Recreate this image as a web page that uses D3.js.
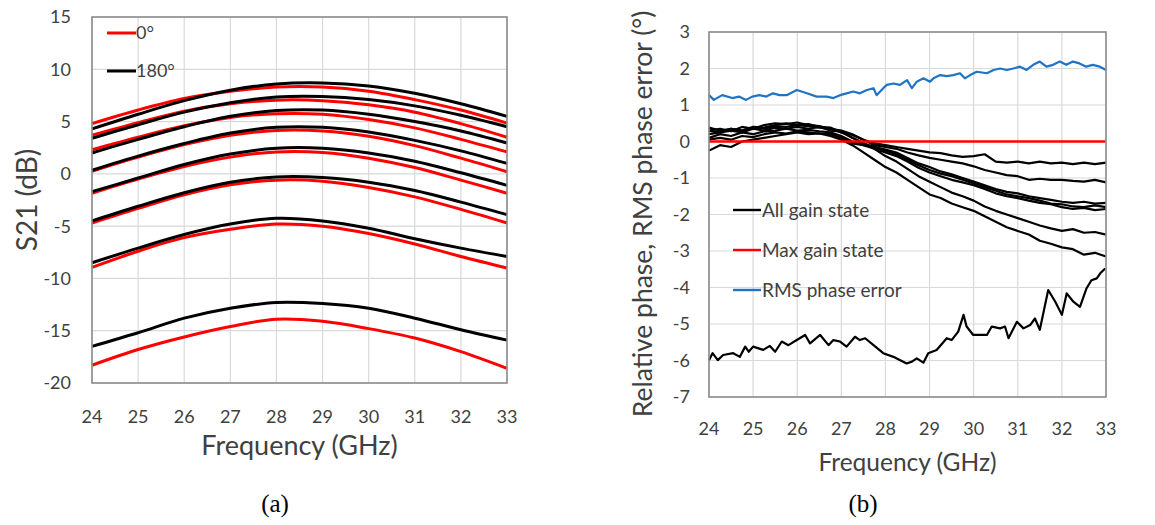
<!DOCTYPE html>
<html>
<head>
<meta charset="utf-8">
<script src="https://cdn.jsdelivr.net/npm/d3@7"></script>
<style>
  html, body { margin: 0; padding: 0; background: #fff; }
  svg { display: block; }
  text { font-family: Lato, "Open Sans", sans-serif; fill: #404040; }
</style>
</head>
<body>
<svg id="chart" width="1155" height="525"></svg>
<script>
// ---------- Panel (a) : S21 vs frequency ----------
const freqS21 = [24, 25, 26, 27, 28, 29, 30, 31, 32, 33];
const s21Ticks = [15, 10, 5, 0, -5, -10, -15, -20];
const freqTicks = [24, 25, 26, 27, 28, 29, 30, 31, 32, 33];

const s21_0deg_1 = [4.8, 6.1, 7.2, 7.9, 8.3, 8.3, 7.9, 7.1, 6.1, 4.85];
const s21_0deg_2 = [3.7, 4.9, 6.0, 6.7, 7.05, 7.0, 6.6, 5.9, 4.8, 3.5];
const s21_0deg_3 = [2.3, 3.5, 4.6, 5.4, 5.75, 5.7, 5.2, 4.4, 3.3, 2.1];
const s21_0deg_4 = [0.25, 1.6, 2.8, 3.7, 4.15, 4.1, 3.6, 2.7, 1.5, 0.2];
const s21_0deg_5 = [-1.85, -0.5, 0.7, 1.6, 2.1, 2.05, 1.5, 0.6, -0.6, -1.85];
const s21_0deg_6 = [-4.7, -3.3, -2.0, -1.05, -0.6, -0.7, -1.3, -2.2, -3.4, -4.7];
const s21_0deg_7 = [-8.95, -7.4, -6.1, -5.3, -4.8, -5.0, -5.7, -6.7, -7.9, -9.0];
const s21_0deg_8 = [-18.3, -16.8, -15.6, -14.6, -13.9, -14.1, -14.8, -15.7, -17.0, -18.6];

const s21_180deg_1 = [4.3, 5.7, 7.0, 8.0, 8.6, 8.7, 8.4, 7.7, 6.7, 5.5];
const s21_180deg_2 = [3.4, 4.7, 5.9, 6.8, 7.35, 7.4, 7.1, 6.5, 5.6, 4.5];
const s21_180deg_3 = [2.0, 3.3, 4.5, 5.5, 6.05, 6.1, 5.7, 5.0, 4.1, 2.95];
const s21_180deg_4 = [0.35, 1.7, 2.9, 3.9, 4.45, 4.45, 4.0, 3.2, 2.2, 1.0];
const s21_180deg_5 = [-1.7, -0.4, 0.9, 1.9, 2.45, 2.45, 2.0, 1.2, 0.1, -1.1];
const s21_180deg_6 = [-4.5, -3.1, -1.8, -0.8, -0.3, -0.35, -0.8, -1.6, -2.7, -3.9];
const s21_180deg_7 = [-8.5, -7.1, -5.8, -4.8, -4.25, -4.5, -5.2, -6.2, -7.1, -7.9];
const s21_180deg_8 = [-16.5, -15.2, -13.8, -12.85, -12.3, -12.4, -12.85, -13.8, -14.9, -15.9];

const legendA = ["0°", "180°"];

// ---------- Panel (b) : relative phase ----------
const phaseTicks = [3, 2, 1, 0, -1, -2, -3, -4, -5, -6, -7];
const freqPhase = [24, 24.25, 24.5, 24.75, 25, 25.25, 25.5, 25.75, 26, 26.25, 26.5, 26.75, 27, 27.25, 27.5, 27.75, 28, 28.25, 28.5, 28.75, 29, 29.25, 29.5, 29.75, 30, 30.25, 30.5, 30.75, 31, 31.25, 31.5, 31.75, 32, 32.25, 32.5, 32.75, 33];

const phaseGain1 = [0.38, 0.3, 0.35, 0.3, 0.38, 0.35, 0.42, 0.4, 0.45, 0.42, 0.38, 0.35, 0.25, 0.18, 0.05, -0.05, -0.1, -0.15, -0.2, -0.25, -0.3, -0.32, -0.38, -0.42, -0.4, -0.35, -0.55, -0.58, -0.55, -0.6, -0.55, -0.6, -0.58, -0.62, -0.58, -0.62, -0.58];
const phaseGain2 = [0.3, 0.35, 0.28, 0.4, 0.35, 0.45, 0.5, 0.48, 0.52, 0.45, 0.42, 0.35, 0.3, 0.2, 0.05, -0.1, -0.15, -0.2, -0.3, -0.38, -0.45, -0.5, -0.55, -0.6, -0.68, -0.78, -0.85, -0.92, -0.95, -1.05, -1.02, -1.05, -1.05, -1.08, -1.1, -1.05, -1.12];
const phaseGain3 = [0.2, 0.25, 0.3, 0.25, 0.35, 0.3, 0.38, 0.35, 0.4, 0.35, 0.4, 0.3, 0.28, 0.1, -0.05, -0.15, -0.22, -0.3, -0.45, -0.6, -0.7, -0.82, -0.9, -1.0, -1.1, -1.2, -1.3, -1.38, -1.42, -1.5, -1.55, -1.6, -1.65, -1.68, -1.65, -1.7, -1.68];
const phaseGain4 = [0.1, 0.2, 0.15, 0.25, 0.2, 0.28, 0.3, 0.35, 0.3, 0.32, 0.28, 0.25, 0.15, 0.0, -0.1, -0.15, -0.25, -0.35, -0.5, -0.65, -0.78, -0.88, -0.95, -1.05, -1.15, -1.25, -1.35, -1.45, -1.5, -1.55, -1.62, -1.7, -1.72, -1.78, -1.8, -1.75, -1.8];
const phaseGain5 = [0.05, 0.1, 0.05, 0.15, 0.12, 0.2, 0.25, 0.22, 0.28, 0.25, 0.22, 0.2, 0.1, -0.05, -0.1, -0.2, -0.3, -0.4, -0.55, -0.72, -0.85, -0.95, -1.05, -1.12, -1.2, -1.3, -1.42, -1.5, -1.55, -1.62, -1.68, -1.72, -1.8, -1.85, -1.82, -1.88, -1.85];
const phaseGain6 = [0.3, 0.25, 0.35, 0.3, 0.4, 0.38, 0.45, 0.5, 0.45, 0.48, 0.4, 0.38, 0.25, 0.1, -0.05, -0.2, -0.4, -0.55, -0.75, -0.95, -1.1, -1.25, -1.4, -1.5, -1.62, -1.78, -1.9, -2.0, -2.1, -2.2, -2.3, -2.38, -2.45, -2.4, -2.5, -2.48, -2.55];
const phaseGain7 = [-0.25, -0.1, -0.15, 0.0, 0.05, 0.1, 0.15, 0.2, 0.25, 0.2, 0.22, 0.15, 0.05, -0.1, -0.3, -0.5, -0.7, -0.85, -1.05, -1.25, -1.45, -1.55, -1.7, -1.8, -1.9, -2.05, -2.2, -2.35, -2.45, -2.55, -2.72, -2.8, -2.9, -2.95, -3.1, -3.05, -3.15];

const freqLowGain = [24.0, 24.08, 24.2, 24.32, 24.55, 24.7, 24.82, 24.9, 25.0, 25.23, 25.38, 25.5, 25.65, 25.8, 25.99, 26.18, 26.29, 26.52, 26.71, 26.82, 26.97, 27.12, 27.31, 27.42, 27.54, 27.73, 27.95, 28.18, 28.48, 28.6, 28.71, 28.86, 28.97, 29.16, 29.39, 29.5, 29.65, 29.77, 29.84, 29.99, 30.3, 30.41, 30.6, 30.71, 30.79, 30.98, 31.13, 31.28, 31.39, 31.5, 31.69, 31.85, 32.0, 32.11, 32.26, 32.41, 32.56, 32.67, 32.79, 32.87, 32.98];
const phaseLowGain = [-5.99, -5.8, -5.99, -5.85, -5.8, -5.9, -5.62, -5.76, -5.62, -5.71, -5.6, -5.76, -5.48, -5.58, -5.44, -5.3, -5.53, -5.3, -5.58, -5.44, -5.48, -5.62, -5.35, -5.44, -5.39, -5.58, -5.8, -5.9, -6.08, -6.03, -5.94, -6.06, -5.8, -5.71, -5.39, -5.44, -5.21, -4.75, -5.07, -5.3, -5.3, -5.07, -5.12, -5.07, -5.39, -4.94, -5.12, -5.03, -4.85, -5.16, -4.07, -4.39, -4.75, -4.16, -4.39, -4.53, -4.02, -3.8, -3.75, -3.61, -3.48];

const freqMaxGain = [24, 33];
const phaseMaxGain = [0, 0];

const freqRms = [24.0, 24.11, 24.3, 24.53, 24.68, 24.84, 24.98, 25.14, 25.3, 25.45, 25.6, 25.76, 25.99, 26.22, 26.44, 26.67, 26.82, 26.97, 27.12, 27.27, 27.42, 27.58, 27.73, 27.8, 27.95, 28.03, 28.18, 28.33, 28.49, 28.6, 28.71, 28.86, 29.01, 29.09, 29.24, 29.39, 29.54, 29.69, 29.8, 29.92, 30.07, 30.3, 30.45, 30.6, 30.75, 30.9, 31.05, 31.2, 31.35, 31.5, 31.65, 31.8, 31.95, 32.1, 32.25, 32.4, 32.55, 32.7, 32.86, 33.0];
const rmsError = [1.27, 1.14, 1.27, 1.19, 1.23, 1.14, 1.23, 1.27, 1.23, 1.32, 1.27, 1.27, 1.41, 1.32, 1.23, 1.23, 1.19, 1.27, 1.32, 1.37, 1.32, 1.41, 1.46, 1.27, 1.46, 1.55, 1.59, 1.55, 1.68, 1.46, 1.64, 1.73, 1.64, 1.73, 1.82, 1.79, 1.82, 1.87, 1.73, 1.82, 1.91, 1.87, 1.96, 2.0, 1.96, 2.0, 2.05, 1.96, 2.1, 2.19, 2.05, 2.1, 2.19, 2.1, 2.19, 2.14, 2.05, 2.1, 2.05, 1.96];

const legendB = ["All gain state", "Max gain state", "RMS phase error"];

// ---------- drawing ----------
const svg = d3.select("#chart");
const gridColor = "#d9d9d9";
const frameColor = "#8c8c8c";
const textColor = "#404040";

function drawFrame(g, x, y, xt, yt, tickFont, xLabelDy, yLabelDx) {
  const [x0, x1] = x.range();
  const [y1, y0] = y.range();
  g.append("g").selectAll("line").data(xt).join("line")
    .attr("x1", d => x(d)).attr("x2", d => x(d))
    .attr("y1", y0).attr("y2", y1)
    .attr("stroke", gridColor).attr("stroke-width", 1.2);
  g.append("g").selectAll("line").data(yt).join("line")
    .attr("x1", x0).attr("x2", x1)
    .attr("y1", d => y(d)).attr("y2", d => y(d))
    .attr("stroke", gridColor).attr("stroke-width", 1.2);
  g.append("g").selectAll("text").data(xt).join("text")
    .attr("x", d => x(d)).attr("y", y1 + xLabelDy)
    .attr("text-anchor", "middle")
    .style("font-size", tickFont + "px").style("fill", textColor)
    .text(d => d);
  g.append("g").selectAll("text").data(yt).join("text")
    .attr("x", x0 - yLabelDx).attr("y", d => y(d))
    .attr("dy", "0.36em")
    .attr("text-anchor", "end")
    .style("font-size", tickFont + "px").style("fill", textColor)
    .text(d => d);
}

function drawBorder(g, x, y) {
  const [x0, x1] = x.range();
  const [y1, y0] = y.range();
  g.append("rect")
    .attr("x", x0).attr("y", y0)
    .attr("width", x1 - x0).attr("height", y1 - y0)
    .attr("fill", "none").attr("stroke", frameColor).attr("stroke-width", 1.6);
}

// Panel (a)
const xA = d3.scaleLinear().domain([24, 33]).range([92, 507]);
const yA = d3.scaleLinear().domain([-20, 15]).range([383, 17]);
const gA = svg.append("g");
drawFrame(gA, xA, yA, freqTicks, s21Ticks, 18, 40, 21);

const lineA = d3.line()
  .x((d, i) => xA(freqS21[i]))
  .y(d => yA(d))
  .curve(d3.curveCatmullRom.alpha(0.5));

const redCurves = [s21_0deg_1, s21_0deg_2, s21_0deg_3, s21_0deg_4, s21_0deg_5, s21_0deg_6, s21_0deg_7, s21_0deg_8];
const blackCurves = [s21_180deg_1, s21_180deg_2, s21_180deg_3, s21_180deg_4, s21_180deg_5, s21_180deg_6, s21_180deg_7, s21_180deg_8];

gA.append("g").selectAll("path").data(redCurves).join("path")
  .attr("d", lineA).attr("fill", "none")
  .attr("stroke", "#ff0000").attr("stroke-width", 3);
gA.append("g").selectAll("path").data(blackCurves).join("path")
  .attr("d", lineA).attr("fill", "none")
  .attr("stroke", "#000000").attr("stroke-width", 3);
drawBorder(gA, xA, yA);

const legA = gA.append("g");
const legAColors = ["#ff0000", "#000000"];
const legAY = [33, 71];
legendA.forEach((t, i) => {
  legA.append("line").attr("x1", 107).attr("x2", 136)
    .attr("y1", legAY[i]).attr("y2", legAY[i])
    .attr("stroke", legAColors[i]).attr("stroke-width", 3);
  legA.append("text").attr("x", 136).attr("y", legAY[i]).attr("dy", "0.36em")
    .style("font-size", "18px").style("fill", textColor).text(t);
});

svg.append("text").attr("x", 299.5).attr("y", 455)
  .attr("text-anchor", "middle").style("font-size", "27px").style("fill", textColor)
  .text("Frequency (GHz)");
svg.append("text").attr("transform", "translate(37,200) rotate(-90)")
  .attr("text-anchor", "middle").style("font-size", "28px").style("fill", textColor)
  .text("S21 (dB)");
svg.append("text").attr("x", 275).attr("y", 512)
  .attr("text-anchor", "middle")
  .style("font-family", "'Liberation Serif', 'DejaVu Serif', serif")
  .style("font-size", "25px").style("fill", "#000")
  .text("(a)");

// Panel (b)
const xB = d3.scaleLinear().domain([24, 33]).range([709, 1106]);
const yB = d3.scaleLinear().domain([-7, 3]).range([397, 32]);
const gB = svg.append("g");
drawFrame(gB, xB, yB, freqTicks, phaseTicks, 18, 38, 19);

const lineB = d3.line().x(d => xB(d[0])).y(d => yB(d[1]));
const zipPts = (fs, vs) => vs.map((v, i) => [fs[i], v]);

const gainCurves = [phaseGain1, phaseGain2, phaseGain3, phaseGain4, phaseGain5, phaseGain6, phaseGain7]
  .map(vs => zipPts(freqPhase, vs));
gainCurves.push(zipPts(freqLowGain, phaseLowGain));

gB.append("g").selectAll("path").data(gainCurves).join("path")
  .attr("d", lineB).attr("fill", "none")
  .attr("stroke", "#000").attr("stroke-width", 2.2)
  .attr("stroke-linejoin", "round");
gB.append("path").datum(zipPts(freqMaxGain, phaseMaxGain))
  .attr("d", lineB).attr("fill", "none")
  .attr("stroke", "#ff0000").attr("stroke-width", 2.6);
gB.append("path").datum(zipPts(freqRms, rmsError))
  .attr("d", lineB).attr("fill", "none")
  .attr("stroke", "#1f74c6").attr("stroke-width", 2.2)
  .attr("stroke-linejoin", "round");
drawBorder(gB, xB, yB);

const legB = gB.append("g");
const legBColors = ["#000000", "#ff0000", "#1f74c6"];
const legBY = [210, 250, 290];
legendB.forEach((t, i) => {
  legB.append("line").attr("x1", 733).attr("x2", 761)
    .attr("y1", legBY[i]).attr("y2", legBY[i])
    .attr("stroke", legBColors[i]).attr("stroke-width", 2.4);
  legB.append("text").attr("x", 762).attr("y", legBY[i]).attr("dy", "0.36em")
    .style("font-size", "19px").style("fill", textColor).text(t);
});

svg.append("text").attr("x", 907.5).attr("y", 471)
  .attr("text-anchor", "middle").style("font-size", "24.5px").style("fill", textColor)
  .text("Frequency (GHz)");
svg.append("text").attr("transform", "translate(652,214) rotate(-90)")
  .attr("text-anchor", "middle").style("font-size", "26.5px").style("fill", textColor)
  .text("Relative phase, RMS phase error (°)");
svg.append("text").attr("x", 863).attr("y", 512)
  .attr("text-anchor", "middle")
  .style("font-family", "'Liberation Serif', 'DejaVu Serif', serif")
  .style("font-size", "25px").style("fill", "#000")
  .text("(b)");
</script>
</body>
</html>
